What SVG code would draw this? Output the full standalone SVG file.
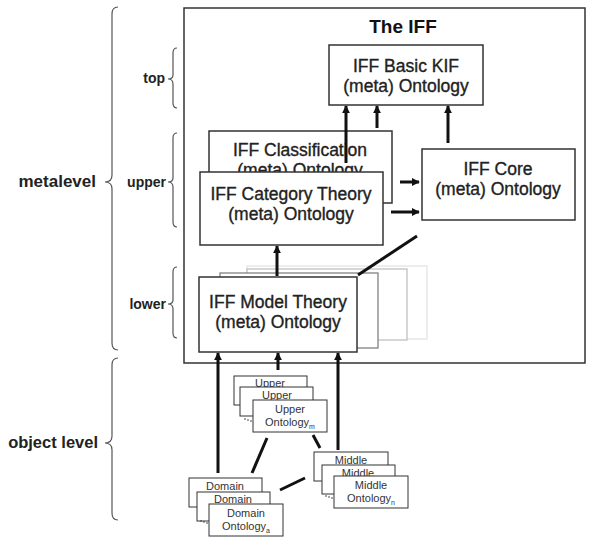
<svg xmlns="http://www.w3.org/2000/svg" width="589" height="543" viewBox="0 0 589 543">
  <defs>
    <style>
      .lvl { font-family: "Liberation Sans", Arial, sans-serif; font-weight: bold; fill: #222; }
      .brace { fill: none; stroke: #555; stroke-width: 1.2; }
      .box { fill: #fff; stroke: #333; stroke-width: 1.5; }
      .ntext { font-family: "Liberation Sans", Arial, sans-serif; font-size: 17.5px; fill: #222; stroke: #222; stroke-width: 0.35; text-anchor: middle; }
      .card { fill: #fff; stroke: #333; stroke-width: 1; }
      .ctext { font-family: "Liberation Sans", Arial, sans-serif; font-size: 11px; fill: #333; text-anchor: middle; }
      .sub { font-size: 7px; }
      .arr { stroke: #111; stroke-width: 3; fill: none; marker-end: url(#ah); }
      .link { stroke: #111; stroke-width: 3; fill: none; }
      .dots { fill: #333; }
    </style>
    <marker id="ah" viewBox="0 0 10 10" refX="9" refY="5" markerWidth="8" markerHeight="8" markerUnits="userSpaceOnUse" orient="auto">
      <path d="M0,0 L10,5 L0,10 z" fill="#111"/>
    </marker>
  </defs>

  <rect width="589" height="543" fill="#fff"/>

  <!-- level labels and braces -->
  <g id="levels">
    <text class="lvl" x="96" y="187" font-size="17" text-anchor="end">metalevel</text>
    <path class="brace" d="M118,7 Q112,7 112,14 L112,175 Q112,182 105,182 Q112,182 112,189 L112,343 Q112,350 118,350"/>
    <text class="lvl" x="98" y="448" font-size="16.5" text-anchor="end">object level</text>
    <path class="brace" d="M118,358 Q112,358 112,365 L112,436 Q112,443 105,443 Q112,443 112,450 L112,513 Q112,520 118,520"/>
    <text class="lvl" x="165" y="83" font-size="14" text-anchor="end">top</text>
    <path class="brace" d="M177,48 Q173,48 173,53 L173,75 Q173,79 168,79 Q173,79 173,84 L173,103 Q173,108 177,108"/>
    <text class="lvl" x="166" y="187" font-size="14" text-anchor="end">upper</text>
    <path class="brace" d="M177,133 Q173,133 173,138 L173,178 Q173,182 168,182 Q173,182 173,187 L173,222 Q173,227 177,227"/>
    <text class="lvl" x="166" y="309" font-size="14" text-anchor="end">lower</text>
    <path class="brace" d="M177,267 Q173,267 173,272 L173,300 Q173,304 168,304 Q173,304 173,309 L173,333 Q173,338 177,338"/>
  </g>

  <!-- IFF frame -->
  <g id="iff">
    <rect x="184" y="8" width="401" height="355" fill="none" stroke="#333" stroke-width="1.5"/>
    <text x="403" y="33" font-family="Liberation Sans, Arial, sans-serif" font-size="19" font-weight="bold" fill="#111" text-anchor="middle">The IFF</text>
  </g>

  <g id="basic-kif">
    <rect class="box" x="329" y="45" width="154" height="60"/>
    <text class="ntext" x="406" y="72">IFF Basic KIF</text>
    <text class="ntext" x="406" y="92">(meta) Ontology</text>
  </g>

  <g id="classification">
    <rect class="box" x="209" y="131" width="183" height="72" stroke="#555"/>
    <text class="ntext" x="300" y="156">IFF Classification</text>
    <text class="ntext" x="300" y="176">(meta) Ontology</text>
  </g>

  <g id="category-theory">
    <rect class="box" x="200" y="172" width="183" height="73"/>
    <text class="ntext" x="291" y="200">IFF Category Theory</text>
    <text class="ntext" x="291" y="220">(meta) Ontology</text>
  </g>

  <g id="core">
    <rect class="box" x="422" y="149" width="153" height="71"/>
    <text class="ntext" x="498" y="175">IFF Core</text>
    <text class="ntext" x="498" y="195">(meta) Ontology</text>
  </g>

  <g id="model-theory">
    <rect x="247" y="266" width="180" height="73" fill="#fff" stroke="#e2e2e2" stroke-width="1.2"/>
    <rect x="247" y="269" width="160" height="71" fill="#fff" stroke="#bbb" stroke-width="1.2"/>
    <rect x="220" y="273" width="158" height="75" fill="#fff" stroke="#777" stroke-width="1.2"/>
    <rect class="box" x="199" y="277" width="158" height="75"/>
    <text class="ntext" x="278" y="308">IFF Model Theory</text>
    <text class="ntext" x="278" y="328">(meta) Ontology</text>
  </g>

  <!-- object-level ontology stacks -->
  <g id="upper-ontologies">
    <rect class="card" x="234" y="376" width="73" height="29"/>
    <text class="ctext" x="270" y="387">Upper</text>
    <rect class="card" x="240" y="387" width="73" height="29"/>
    <text class="ctext" x="277" y="399">Upper</text>
    <circle class="dots" cx="245" cy="419" r="0.8"/>
    <circle class="dots" cx="248" cy="420" r="0.8"/>
    <circle class="dots" cx="251" cy="421" r="0.8"/>
    <rect class="card" x="253" y="400" width="74" height="32"/>
    <text class="ctext" x="290" y="413">Upper</text>
    <text class="ctext" x="290" y="426">Ontology<tspan class="sub" dy="3">m</tspan></text>
  </g>

  <g id="domain-ontologies">
    <rect class="card" x="189" y="478" width="73" height="29"/>
    <text class="ctext" x="225" y="490">Domain</text>
    <rect class="card" x="197" y="492" width="73" height="29"/>
    <text class="ctext" x="233" y="503">Domain</text>
    <circle class="dots" cx="201" cy="521" r="0.8"/>
    <circle class="dots" cx="204" cy="522" r="0.8"/>
    <circle class="dots" cx="207" cy="523" r="0.8"/>
    <rect class="card" x="209" y="504" width="74" height="32"/>
    <text class="ctext" x="246" y="517">Domain</text>
    <text class="ctext" x="246" y="530">Ontology<tspan class="sub" dy="3">a</tspan></text>
  </g>

  <g id="middle-ontologies">
    <rect class="card" x="314" y="452" width="74" height="29"/>
    <text class="ctext" x="351" y="464">Middle</text>
    <rect class="card" x="322" y="465" width="73" height="29"/>
    <text class="ctext" x="358" y="477">Middle</text>
    <circle class="dots" cx="326" cy="496" r="0.8"/>
    <circle class="dots" cx="329" cy="497" r="0.8"/>
    <circle class="dots" cx="332" cy="498" r="0.8"/>
    <rect class="card" x="334" y="476" width="74" height="32"/>
    <text class="ctext" x="371" y="489">Middle</text>
    <text class="ctext" x="371" y="502">Ontology<tspan class="sub" dy="3">n</tspan></text>
  </g>

  <!-- connectors -->
  <g id="connectors">
    <line class="arr" x1="346" y1="163" x2="346" y2="106"/>
    <line class="arr" x1="377" y1="128" x2="377" y2="106"/>
    <line class="arr" x1="448" y1="143" x2="448" y2="106"/>
    <line class="arr" x1="400" y1="182" x2="419" y2="182"/>
    <line class="arr" x1="391" y1="212" x2="419" y2="212"/>
    <line class="link" x1="358" y1="275" x2="417" y2="236"/>
    <line class="arr" x1="277" y1="276" x2="277" y2="246"/>
    <line class="arr" x1="218" y1="473" x2="218" y2="353"/>
    <line class="arr" x1="278" y1="370" x2="278" y2="353"/>
    <line class="arr" x1="338" y1="450" x2="338" y2="353"/>
    <line class="link" x1="267" y1="438" x2="252" y2="473"/>
    <line class="link" x1="313" y1="435" x2="320" y2="448"/>
    <line class="link" x1="280" y1="490" x2="305" y2="478"/>
  </g>
</svg>
